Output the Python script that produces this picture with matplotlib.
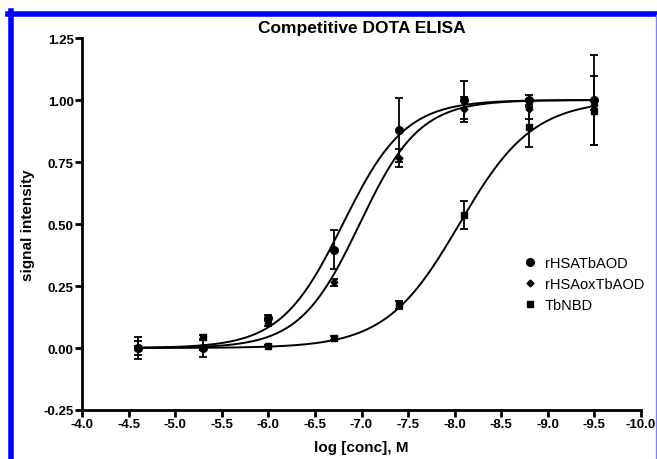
import numpy as np
import matplotlib
matplotlib.use("Agg")
import matplotlib.pyplot as plt
from matplotlib.lines import Line2D
from matplotlib.ticker import FormatStrFormatter, MultipleLocator

plt.rcParams['font.family'] = ['Liberation Sans', 'DejaVu Sans']

# log concentration of each dilution
log_conc = [-4.6, -5.3, -6.0, -6.7, -7.4, -8.1, -8.8, -9.5]

# mean signal and error
hsa_y = [0.0, 0.0, 0.12, 0.396, 0.879, 1.0, 1.0, 1.0]
hsa_err = [0.046, 0.037, 0.012, 0.078, 0.128, 0.075, 0.02, 0.18]
hsaox_y = [0.0, 0.0, 0.10, 0.265, 0.766, 0.963, 0.965, 0.98]
hsaox_err = [0.03, 0.01, 0.012, 0.015, 0.038, 0.05, 0.04, 0.02]
nbd_y = [0.0, 0.043, 0.008, 0.04, 0.173, 0.536, 0.89, 0.957]
nbd_err = [0.01, 0.01, 0.005, 0.008, 0.017, 0.058, 0.08, 0.14]

# fitted sigmoid parameters (logEC50 as -log, hill slope)
hsa_fit = (6.80, 1.30)
hsaox_fit = (6.98, 1.35)
nbd_fit = (8.05, 1.10)

labels = ['rHSATbAOD', 'rHSAoxTbAOD', 'TbNBD']
markers = ['o', 'D', 's']
sizes = [5.5, 3.5, 4.5]


def sigmoid(x, ec50, hill):
    # bottom 0, top 1; concentration axis runs negative
    return 1.0 / (1.0 + 10 ** ((ec50 + x) * hill))


fig = plt.figure(figsize=(6.57, 4.6), dpi=100)
ax = fig.add_axes([82 / 657, 49 / 460, (641 - 82) / 657, (411 - 39) / 460])

xs = np.linspace(-4.6, -9.5, 300)
series = [(hsa_y, hsa_err, hsa_fit), (hsaox_y, hsaox_err, hsaox_fit), (nbd_y, nbd_err, nbd_fit)]
for (y, e, fit), m, s in zip(series, markers, sizes):
    ax.plot(xs, sigmoid(xs, *fit), color='black', lw=1.4)
    ax.errorbar(log_conc, y, yerr=e, fmt=m, ms=s, color='black', ecolor='black',
                elinewidth=1.3, capsize=3, capthick=1.3)

ax.set_xlim(-4.0, -10.0)
ax.set_ylim(-0.25, 1.25)
ax.xaxis.set_major_locator(MultipleLocator(0.5))
ax.yaxis.set_major_locator(MultipleLocator(0.25))
ax.xaxis.set_major_formatter(FormatStrFormatter('%.1f'))
ax.yaxis.set_major_formatter(FormatStrFormatter('%.2f'))
for sp in ['top', 'right']:
    ax.spines[sp].set_visible(False)
for sp in ['left', 'bottom']:
    ax.spines[sp].set_linewidth(2)
ax.tick_params(direction='out', length=5, width=2, labelsize=9.5, pad=1)
for lbl in ax.get_xticklabels() + ax.get_yticklabels():
    lbl.set_fontweight('bold')

ax.set_title('Competitive DOTA ELISA', fontsize=12.5, fontweight='bold', pad=4)
ax.set_xlabel('log [conc], M', fontsize=11, fontweight='bold', labelpad=7)
ax.set_ylabel('signal intensity', fontsize=11, fontweight='bold', labelpad=6)

handles = [Line2D([], [], ls='none', marker=m, ms=s, color='black') for m, s in zip(markers, sizes)]
ax.legend(handles, labels, loc='upper left', bbox_to_anchor=(0.765, 0.45), frameon=False,
          fontsize=10.5, handlelength=1.0, handletextpad=0.5, labelspacing=0.5)

# blue frame around the figure
fig.add_artist(Line2D([10.5 / 657, 10.5 / 657], [0, 1 - 12 / 460], color='#0000ff', lw=4))
fig.add_artist(Line2D([8 / 657, 1], [1 - 14.5 / 460, 1 - 14.5 / 460], color='#0000ff', lw=4))
fig.add_artist(Line2D([655.5 / 657, 655.5 / 657], [0, 1 - 16 / 460], color='#8080ff', lw=1))

fig.savefig('out.png', dpi=100)
